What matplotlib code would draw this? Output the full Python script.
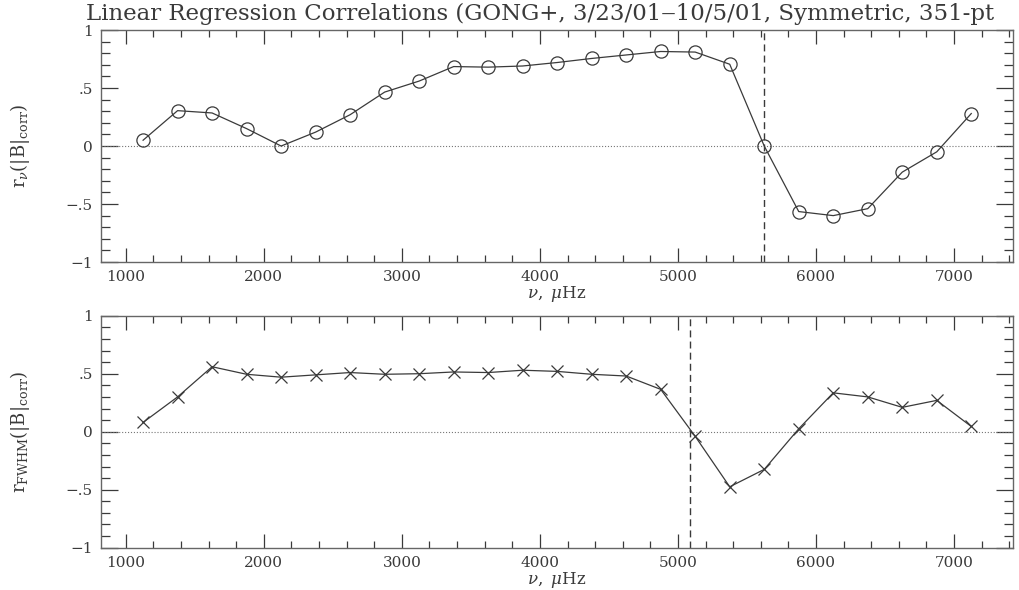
import matplotlib
matplotlib.use("Agg")
import matplotlib.pyplot as plt
from matplotlib.ticker import MultipleLocator

plt.rcParams['font.family'] = ['DejaVu Serif']
plt.rcParams['mathtext.fontset'] = 'dejavuserif'

# frequency bins (uHz)
freq = [1125, 1375, 1625, 1875, 2125, 2375, 2625, 2875, 3125, 3375, 3625, 3875, 4125,
        4375, 4625, 4875, 5125, 5375, 5625, 5875, 6125, 6375, 6625, 6875, 7125]

# correlation of frequency shift with |B|
r_nu = [0.05, 0.305, 0.285, 0.15, 0.0, 0.12, 0.27, 0.465, 0.56, 0.685, 0.68, 0.69, 0.72,
        0.755, 0.785, 0.815, 0.81, 0.705, 0.0, -0.565, -0.6, -0.54, -0.225, -0.05, 0.28]

# correlation of FWHM with |B|
r_fwhm = [0.08, 0.30, 0.56, 0.495, 0.47, 0.49, 0.51, 0.495, 0.50, 0.515, 0.51, 0.53, 0.52,
          0.495, 0.48, 0.365, -0.04, -0.475, -0.325, 0.025, 0.335, 0.30, 0.21, 0.27, 0.045]

# zero crossings marked by dashed lines
cross_nu = 5625
cross_fwhm = 5090

yticks = [-1, -0.5, 0, 0.5, 1]
ytick_labels = ['\u22121', '\u2212.5', '0', '.5', '1']
xticks = [1000, 2000, 3000, 4000, 5000, 6000, 7000]

title = "Linear Regression Correlations (GONG+, 3/23/01\u201210/5/01, Symmetric, 351-pt"

ink = '#3a3a3a'

fig = plt.figure(figsize=(10.19, 5.90), dpi=100)
ax1 = fig.add_axes([0.0991, 0.5559, 0.8947, 0.3932])
ax2 = fig.add_axes([0.0991, 0.0717, 0.8947, 0.3932])


def style_axis(ax):
    ax.set_xlim(820, 7425)
    ax.set_ylim(-1, 1)
    ax.set_xticks(xticks)
    ax.xaxis.set_minor_locator(MultipleLocator(200))
    ax.set_yticks(yticks)
    ax.set_yticklabels(ytick_labels)
    ax.yaxis.set_minor_locator(MultipleLocator(0.1))
    ax.tick_params(which='both', direction='in', top=True, right=True, colors=ink,
                   labelsize=11, width=0.9)
    ax.tick_params(axis='x', which='major', length=10, pad=6)
    ax.tick_params(axis='x', which='minor', length=5)
    ax.tick_params(axis='y', which='major', length=12.5, pad=6)
    ax.tick_params(axis='y', which='minor', length=6.5)
    for s in ax.spines.values():
        s.set_color('#666666')
        s.set_linewidth(1.0)
    ax.axhline(0, color='#777777', lw=0.8, ls=':')
    ax.set_xlabel(r'$\nu,\ \mu\mathrm{Hz}$', fontsize=12, color=ink, labelpad=0)


style_axis(ax1)
ax1.plot(freq, r_nu, color=ink, lw=0.9, marker='o', ms=9.5, mfc='none', mec=ink, mew=0.9)
ax1.axvline(cross_nu, color=ink, lw=1.0, ls=(0, (5, 3)))
ax1.set_ylabel(r'$\mathrm{r}_{\nu}(|\mathrm{B}|_{\mathrm{corr}})$', fontsize=13, color=ink,
               labelpad=24)

style_axis(ax2)
ax2.plot(freq, r_fwhm, color=ink, lw=0.9, marker='x', ms=9, mec=ink, mew=0.9)
ax2.axvline(cross_fwhm, color=ink, lw=1.0, ls=(0, (5, 3)))
ax2.set_ylabel(r'$\mathrm{r}_{\mathrm{FWHM}}(|\mathrm{B}|_{\mathrm{corr}})$', fontsize=13,
               color=ink, labelpad=24)

fig.text(86 / 1019, 1 - 14 / 590, title, fontsize=16.5, color=ink, ha='left', va='center')

fig.savefig('out.png', dpi=100)
